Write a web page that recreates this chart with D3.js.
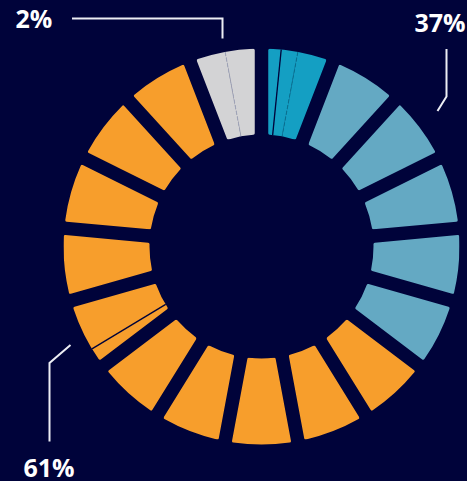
<!DOCTYPE html>
<html>
<head>
<meta charset="utf-8">
<script src="https://cdn.jsdelivr.net/npm/d3@7"></script>
<style>
  html, body { margin: 0; padding: 0; background: #00033a; }
  svg { display: block; }
</style>
</head>
<body>
<div id="chart"></div>
<script>
// 17 goals, clockwise from 12 o'clock
const goals = ["1", "2", "3", "4", "5", "6", "7", "8", "9", "10", "11", "12", "13", "14", "15", "16", "17"];
const goalGroup = ["teal", "blue", "blue", "blue", "blue", "blue",
                   "orange", "orange", "orange", "orange", "orange", "orange",
                   "orange", "orange", "orange", "orange", "grey"];
// share of each goal split into sub parts (most goals are whole)
const goalSplits = [[0.27, 0.23, 0.5], [1], [1], [1], [1], [1],
                    [1], [1], [1], [1], [1], [0.28, 0.72],
                    [1], [1], [1], [1], [0.5, 0.5]];
// divider style after each sub part
const splitLines = [["solid", "dashed"], [], [], [], [], [],
                    [], [], [], [], [], ["solid"],
                    [], [], [], [], ["dashedGrey"]];
const groupLabels = ["2%", "37%", "61%"];

const width = 467, height = 481;
const cx = 261.5, cy = 246.5;
const outerR = 198, innerR = 112;

const color = d3.scaleOrdinal()
  .domain(["teal", "blue", "orange", "grey"])
  .range(["#149fc3", "#64a9c3", "#f79e2c", "#d3d3d5"]);

const angle = d3.scaleLinear()
  .domain([0, goals.length])
  .range([0, 2 * Math.PI]);

const svg = d3.select("#chart")
  .append("svg")
    .attr("width", width)
    .attr("height", height);

svg.append("rect")
  .attr("width", width)
  .attr("height", height)
  .attr("fill", "#00033a");

const g = svg.append("g")
  .attr("transform", `translate(${cx},${cy})`);

const padArc = d3.arc()
  .innerRadius(innerR)
  .outerRadius(outerR)
  .padAngle(0.135)
  .padRadius(100)
  .cornerRadius(1.5);

const subArc = d3.arc()
  .innerRadius(innerR - 2)
  .outerRadius(outerR + 2);

const defs = svg.append("defs");

goals.forEach((goal, i) => {
  const a0 = angle(i), a1 = angle(i + 1);

  defs.append("clipPath")
    .attr("id", "clip-" + i)
    .append("path")
      .attr("d", padArc({ startAngle: a0, endAngle: a1 }));

  const seg = g.append("g").attr("clip-path", `url(#clip-${i})`);

  // sub parts
  let acc = 0;
  const cuts = [];
  goalSplits[i].forEach(share => {
    const s = a0 + (a1 - a0) * acc;
    acc += share;
    const e = a0 + (a1 - a0) * acc;
    seg.append("path")
      .attr("d", subArc({ startAngle: s, endAngle: e }))
      .attr("fill", color(goalGroup[i]));
    cuts.push(e);
  });

  // dividers between sub parts
  splitLines[i].forEach((style, k) => {
    const a = cuts[k];
    const line = seg.append("line")
      .attr("x1", (innerR - 2) * Math.sin(a))
      .attr("y1", -(innerR - 2) * Math.cos(a))
      .attr("x2", (outerR + 2) * Math.sin(a))
      .attr("y2", -(outerR + 2) * Math.cos(a));
    if (style === "solid") {
      line.attr("stroke", "#00033a").attr("stroke-width", 1.3);
    } else if (style === "dashed") {
      line.attr("stroke", "#0b6f8e").attr("stroke-width", 1)
        .attr("stroke-dasharray", "4,2");
    } else {
      line.attr("stroke", "#9ea3b8").attr("stroke-width", 1)
        .attr("stroke-dasharray", "4,2");
    }
  });
});

// leader lines and labels
const leader = svg.append("g")
  .attr("fill", "none")
  .attr("stroke", "#eceef4")
  .attr("stroke-width", 2);

leader.append("path")
  .attr("d", "M72,18.5 H222.5 V38.5");
leader.append("path")
  .attr("d", "M446.5,49 V96.5 L437.5,111");
leader.append("path")
  .attr("d", "M70.5,345 L49.5,363 V441.5");

const labelPos = [
  { x: 34, y: 28, anchor: "middle" },
  { x: 440, y: 32, anchor: "middle" },
  { x: 49, y: 477, anchor: "middle" }
];

svg.selectAll("text.lab")
  .data(groupLabels)
  .enter()
  .append("text")
    .attr("class", "lab")
    .attr("x", (d, i) => labelPos[i].x)
    .attr("y", (d, i) => labelPos[i].y)
    .attr("text-anchor", (d, i) => labelPos[i].anchor)
    .attr("fill", "#ffffff")
    .style("font-family", "'Open Sans', 'Noto Sans', sans-serif")
    .style("font-weight", "700")
    .style("font-size", "25px")
    .text(d => d);
</script>
</body>
</html>
